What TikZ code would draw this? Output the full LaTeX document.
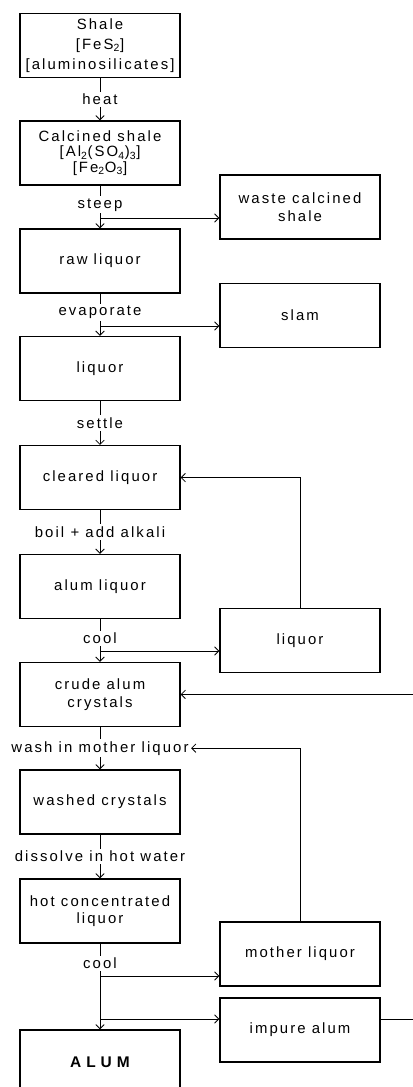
\documentclass[tikz,border=0pt]{standalone}
\usepackage{fontspec}
\usepackage{tikz}
\usetikzlibrary{arrows.meta, positioning, calc}
\newfontfamily\flowfont{Liberation Sans}[LetterSpace=14]
\tikzset{
  stepbox/.style={rectangle, draw=black, fill=white,
    minimum width=4cm, minimum height=1.6cm, align=center,
    font=\flowfont\fontsize{10.6}{12.5}\selectfont, line width=0.9pt},
  lbl/.style={fill=white, inner sep=1.5pt, font=\flowfont\fontsize{10.6}{12.5}\selectfont},
  arrow/.style={-{Straight Barb[length=3pt,width=6pt]}, semithick},
  line/.style={semithick}
}

\begin{document}
\begin{tikzpicture}
  \useasboundingbox (0,0) rectangle (10.3,-27.175);

  % Main column
  \node[stepbox] (shale)   at (2.5,-1.14)   {Shale\\[1.5pt]{}[FeS\textsubscript{2}]\\[1.5pt]{}[aluminosilicates]};
  \node[stepbox] (calc)    at (2.5,-3.825)  {Calcined shale\\[-1.5pt]{}[Al\textsubscript{2}(SO\textsubscript{4})\textsubscript{3}]\\[-1.5pt]{}[Fe\textsubscript{2}O\textsubscript{3}]};
  \node[stepbox] (raw)     at (2.5,-6.525)  {raw liquor};
  \node[stepbox] (liq)     at (2.5,-9.21)   {liquor};
  \node[stepbox] (cleared) at (2.5,-11.94)  {cleared liquor};
  \node[stepbox] (alumliq) at (2.5,-14.66)  {alum liquor};
  \node[stepbox] (crude)   at (2.5,-17.36)  {crude alum\\crystals};
  \node[stepbox] (washed)  at (2.5,-20.05)  {washed crystals};
  \node[stepbox] (hotliq)  at (2.5,-22.775) {hot concentrated\\liquor};
  \node[stepbox, font=\flowfont\fontsize{11}{13}\selectfont\bfseries\addfontfeature{LetterSpace=32}]
                 (alum)    at (2.5,-26.55)  {ALUM};

  % Side products
  \node[stepbox] (waste)  at (7.5,-5.175) {waste calcined\\shale};
  \node[stepbox] (slam)   at (7.5,-7.89)  {slam};
  \node[stepbox] (liqr)   at (7.5,-16.01) {liquor};
  \node[stepbox] (mother) at (7.5,-23.85) {mother liquor};
  \node[stepbox] (impure) at (7.5,-25.75) {impure alum};

  % Process steps
  \draw[arrow] (shale)   -- (calc)    node[lbl, midway] {heat};
  \draw[arrow] (calc)    -- (raw)     node[lbl, pos=0.45] {steep};
  \draw[arrow] (raw)     -- (liq)     node[lbl, pos=0.45] {evaporate};
  \draw[arrow] (liq)     -- (cleared) node[lbl, midway] {settle};
  \draw[arrow] (cleared) -- (alumliq) node[lbl, midway] {boil + add alkali};
  \draw[arrow] (alumliq) -- (crude)   node[lbl, pos=0.45] {cool};
  \draw[arrow] (crude)   -- (washed)  node[lbl, midway] (wash) {wash in mother liquor};
  \draw[arrow] (washed)  -- (hotliq)  node[lbl, midway] {dissolve in hot water};
  \draw[arrow] (hotliq)  -- (alum)    node[lbl, pos=0.23] {cool};

  % Branch points
  \coordinate (j1) at (2.5,-5.45);
  \coordinate (j2) at (2.5,-8.15);
  \coordinate (j3) at (2.5,-16.275);
  \coordinate (j4) at (2.5,-24.4);
  \coordinate (j5) at (2.5,-25.475);
  \coordinate (rt) at (10.8,-25.475);

  \draw[arrow] (j1) -- (j1 -| waste.west);
  \draw[arrow] (j2) -- (j2 -| slam.west);
  \draw[arrow] (j3) -- (j3 -| liqr.west);
  \draw[arrow] (j4) -- (j4 -| mother.west);
  \draw[arrow] (j5) -- (j5 -| impure.west);

  % Recycle loops
  \draw[arrow] (liqr.north) |- (cleared.east);
  \draw[arrow] (mother.north) |- (wash.east);
  \draw[arrow] (impure.east |- j5) -- (rt) |- (crude.east);
\end{tikzpicture}
\end{document}
